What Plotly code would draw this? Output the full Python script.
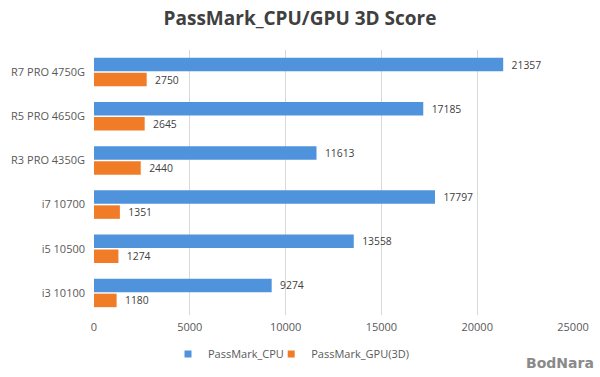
import plotly.graph_objects as go

categories = ["R7 PRO 4750G", "R5 PRO 4650G", "R3 PRO 4350G", "i7 10700", "i5 10500", "i3 10100"]
cpu_scores = [21357, 17185, 11613, 17797, 13558, 9274]
gpu_scores = [2750, 2645, 2440, 1351, 1274, 1180]
x_ticks = [0, 5000, 10000, 15000, 20000, 25000]

CPU_COLOR = "#4f93dc"
GPU_COLOR = "#f07c28"

fig = go.Figure()
fig.add_trace(go.Bar(
    y=categories, x=cpu_scores, orientation="h", name="PassMark_CPU",
    marker=dict(color=CPU_COLOR, line=dict(width=0)), showlegend=False,
    text=["  " + str(v) for v in cpu_scores], textposition="outside",
    textfont=dict(size=11.5, color="#404040"), cliponaxis=False,
))
fig.add_trace(go.Bar(
    y=categories, x=gpu_scores, orientation="h", name="PassMark_GPU(3D)",
    marker=dict(color=GPU_COLOR, line=dict(width=0)), showlegend=False,
    text=["  " + str(v) for v in gpu_scores], textposition="outside",
    textfont=dict(size=11.5, color="#404040"), cliponaxis=False,
))
# legend entries with small square markers
fig.add_trace(go.Scatter(x=[None], y=[None], mode="markers", name="PassMark_CPU",
                         marker=dict(symbol="square", size=7, color=CPU_COLOR),
                         legend="legend"))
fig.add_trace(go.Scatter(x=[None], y=[None], mode="markers", name="PassMark_GPU(3D)",
                         marker=dict(symbol="square", size=7, color=GPU_COLOR),
                         legend="legend2"))

legend_common = dict(orientation="h", xanchor="left", xref="container",
                     y=0.061, yanchor="middle", yref="container",
                     font=dict(size=11, color="#595959"), itemwidth=30,
                     bgcolor="rgba(0,0,0,0)")

fig.update_layout(
    width=600, height=377,
    paper_bgcolor="white", plot_bgcolor="white",
    margin=dict(l=94, r=27, t=50, b=62, autoexpand=False),
    barmode="group", bargap=0.32, bargroupgap=0.1,
    font=dict(family="Open Sans, Noto Sans, sans-serif", color="#595959"),
    title=dict(text="<b>PassMark_CPU/GPU 3D Score</b>", x=0.5, xanchor="center",
               y=0.952, yanchor="middle",
               font=dict(size=19, color="#404040")),
    legend=dict(x=0.28, **legend_common),
    legend2=dict(x=0.452, **legend_common),
    xaxis=dict(range=[0, 25000], tickvals=x_ticks, ticktext=[str(t) for t in x_ticks],
               showgrid=True, gridcolor="#d9d9d9", gridwidth=1, zeroline=False,
               showline=False, tickfont=dict(size=11, color="#595959"), ticks="",
               ticklabelstandoff=4, automargin=False),
    yaxis=dict(autorange="reversed", showgrid=False, showline=False,
               tickfont=dict(size=11, color="#595959"), ticks="",
               ticklabelstandoff=8, automargin=False),
    annotations=[dict(text="<b>BodNara</b>", xref="paper", yref="paper",
                      x=1.048, y=-0.181, xanchor="right", yanchor="middle", showarrow=False,
                      font=dict(size=14, color="#8a8a8a", family="DejaVu Sans"))],
)

fig.write_html("out.html", config={"displayModeBar": False},
               post_script="document.body.style.margin='0';document.body.style.overflow='hidden';")
